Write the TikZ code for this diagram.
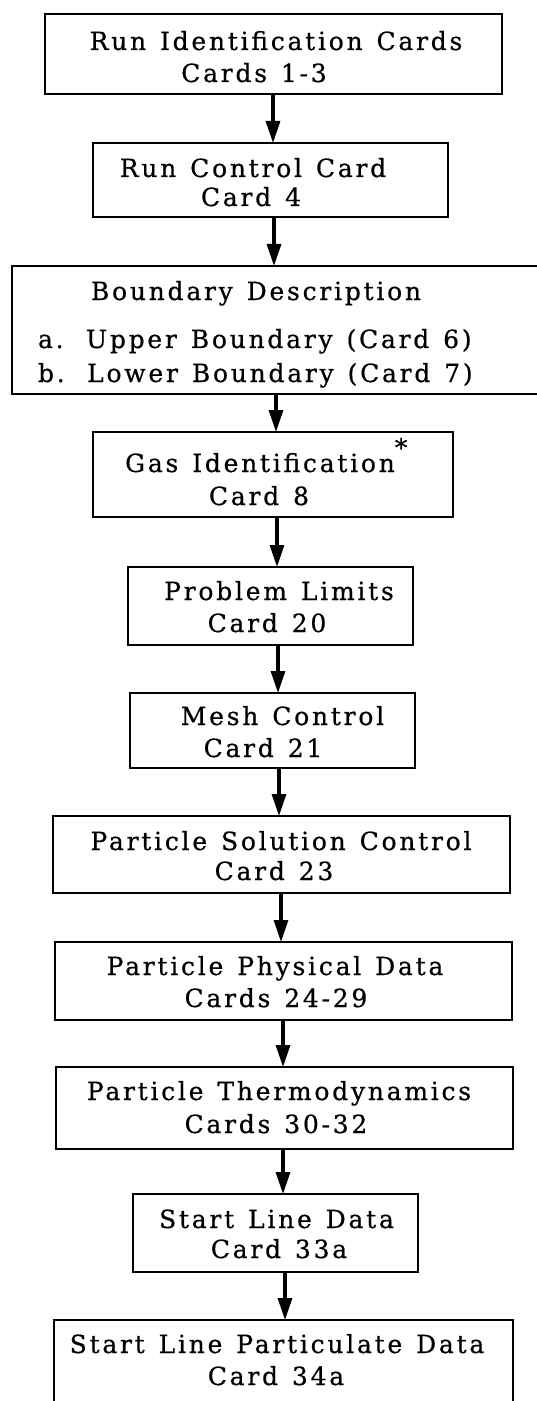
\documentclass[tikz,border=0pt]{standalone}
\usepackage{fontspec}
\setmainfont{DejaVu Serif}[LetterSpace=11, FakeBold=0.6, WordSpace=1.3]
\usetikzlibrary{arrows.meta}
\tikzset{
  box/.style={draw=black, line width=1.3pt, inner sep=0pt, outer sep=0pt, rectangle},
  tx/.style={anchor=base, inner sep=0pt, outer sep=0pt, font=\fontsize{12.5pt}{15pt}\selectfont},
  arr/.style={line width=1.6pt, -{Triangle[length=11pt,width=7pt]}}
}
\begin{document}
\begin{tikzpicture}[x=0.5pt,y=-0.5pt]
\useasboundingbox (0,0) rectangle (536,1401);
% boxes
\node[box, minimum width=228.5pt, minimum height=40pt]   (b1)  at (273.5,54)    {};
\node[box, minimum width=177.5pt, minimum height=37pt]   (b2)  at (270.5,180)   {};
\node[box, minimum width=266.5pt, minimum height=64pt]   (b3)  at (278.5,330)   {};
\node[box, minimum width=180pt,   minimum height=42.5pt] (b4)  at (273,474.5)   {};
\node[box, minimum width=142.5pt, minimum height=39pt]   (b5)  at (270.5,606)   {};
\node[box, minimum width=142.5pt, minimum height=37.5pt] (b6)  at (272.5,730.5) {};
\node[box, minimum width=228.5pt, minimum height=38.5pt] (b7)  at (281.5,854.5) {};
\node[box, minimum width=228.5pt, minimum height=39pt]   (b8)  at (283.5,981)   {};
\node[box, minimum width=228.5pt, minimum height=41pt]   (b9)  at (284.5,1108)  {};
\node[box, minimum width=142.5pt, minimum height=39pt]   (b10) at (275.5,1233)  {};
\node[box, minimum width=229.5pt, minimum height=42pt]   (b11) at (283.5,1362)  {};
% texts
\node[tx] (t1a) at (276,50)  {Run Identification Cards};
\node[tx] (t1b) at (254,82)  {Cards 1-3};
\node[tx] (t2a) at (253,177) {Run Control Card};
\node[tx] (t2b) at (251,206) {Card 4};
\node[tx] (t3a) at (256,300) {Boundary Description};
\node[tx, anchor=base west] (t3b) at (38,348) {a.\hspace{2.5pt} Upper Boundary (Card 6)};
\node[tx, anchor=base west] (t3c) at (38,382) {b.\hspace{2.5pt} Lower Boundary (Card 7)};
\node[tx] (t4a) at (260,472) {Gas Identification\rlap{\raisebox{1.2ex}{*}}};
\node[tx] (t4b) at (259,505) {Card 8};
\node[tx] (t5a) at (279,600) {Problem Limits};
\node[tx] (t5b) at (267,632) {Card 20};
\node[tx] (t6a) at (282.5,725) {Mesh Control};
\node[tx] (t6b) at (263,757) {Card 21};
\node[tx] (t7a) at (281,850) {Particle Solution Control};
\node[tx] (t7b) at (274,880) {Card 23};
\node[tx] (t8a) at (275,975) {Particle Physical Data};
\node[tx] (t8b) at (276,1007) {Cards 24-29};
\node[tx] (t9a) at (279,1100) {Particle Thermodynamics};
\node[tx] (t9b) at (276,1133) {Cards 30-32};
\node[tx] (t10a) at (276.5,1228) {Start Line Data};
\node[tx] (t10b) at (279,1258) {Card 33a};
\node[tx] (t11a) at (277,1353) {Start Line Particulate Data};
\node[tx] (t11b) at (276,1385) {Card 34a};
% arrow columns
\coordinate (ax1) at (273,0);
\coordinate (ax2) at (274,0);
\coordinate (ax3) at (276,0);
\coordinate (ax4) at (277,0);
\coordinate (ax5) at (278,0);
\coordinate (ax6) at (279,0);
\coordinate (ax7) at (281,0);
\coordinate (ax8) at (283,0);
\coordinate (ax9) at (283,0);
\coordinate (ax10) at (285,0);
\draw[arr] (b1.south -| ax1) -- (b2.north -| ax1);
\draw[arr] (b2.south -| ax2) -- (b3.north -| ax2);
\draw[arr] (b3.south -| ax3) -- (b4.north -| ax3);
\draw[arr] (b4.south -| ax4) -- (b5.north -| ax4);
\draw[arr] (b5.south -| ax5) -- (b6.north -| ax5);
\draw[arr] (b6.south -| ax6) -- (b7.north -| ax6);
\draw[arr] (b7.south -| ax7) -- (b8.north -| ax7);
\draw[arr] (b8.south -| ax8) -- (b9.north -| ax8);
\draw[arr] (b9.south -| ax9) -- (b10.north -| ax9);
\draw[arr] (b10.south -| ax10) -- (b11.north -| ax10);
\end{tikzpicture}
\end{document}
